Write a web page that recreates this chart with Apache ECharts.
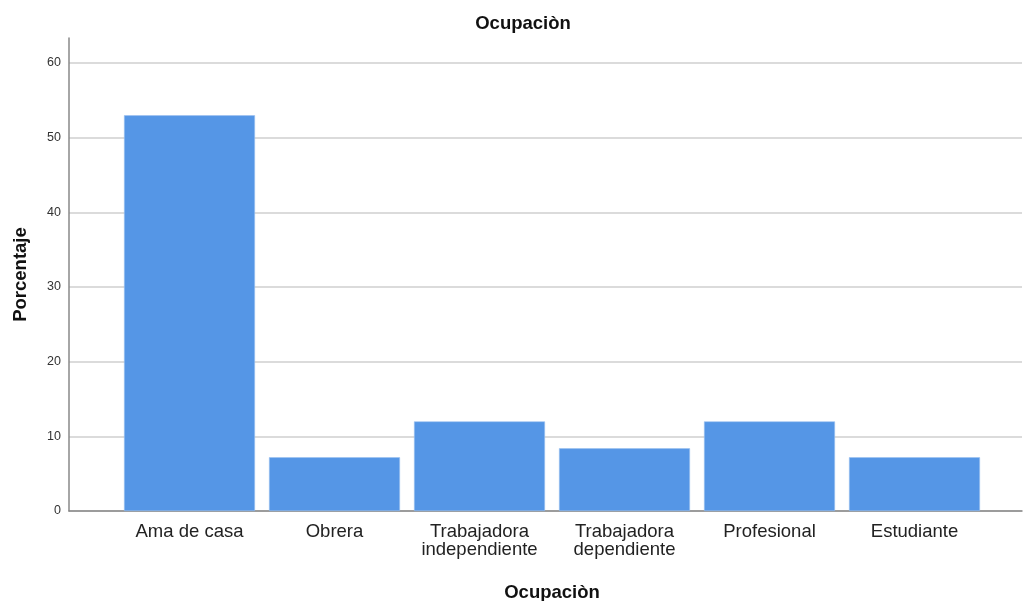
<!DOCTYPE html>
<html>
<head>
<meta charset="utf-8">
<script src="https://cdn.jsdelivr.net/npm/echarts@6/dist/echarts.min.js"></script>
<style>
  html, body { margin: 0; padding: 0; background: #fff; }
  #chart { width: 1023px; height: 601px; }
</style>
</head>
<body>
<div id="chart"></div>
<script>
// Ocupación: porcentaje por categoría
const categories = ['Ama de casa', 'Obrera', 'Trabajadora\nindependiente', 'Trabajadora\ndependiente', 'Profesional', 'Estudiante'];
const porcentaje = [53.0, 7.2, 12.0, 8.4, 12.0, 7.2];
const yTicks = { min: 0, max: 60, interval: 10 };

const FONT = '"Liberation Sans", Arial, sans-serif';
const chart = echarts.init(document.getElementById('chart'), null, { renderer: 'canvas' });

chart.setOption({
  animation: false,
  backgroundColor: '#ffffff',
  title: {
    text: 'Ocupaciòn',
    left: 518, top: 9, textAlign: 'center',
    textStyle: { fontFamily: FONT, fontSize: 18.5, fontWeight: 'bold', color: '#111' }
  },
  grid: [
    // frame: y axis line rising above the top gridline
    { left: 69, top: 38, width: 953, height: 473, outerBoundsMode: 'none', containLabel: false },
    // gridlines and y labels
    { left: 69, top: 63, width: 953, height: 448, outerBoundsMode: 'none', containLabel: false },
    // bars
    { left: 117, top: 63, width: 870, height: 448, outerBoundsMode: 'none', containLabel: false }
  ],
  xAxis: [
    { gridIndex: 0, type: 'category', data: [''], axisLine: { show: true, lineStyle: { color: '#888', width: 1.5 } },
      axisTick: { show: false }, axisLabel: { show: false } },
    { gridIndex: 1, type: 'category', data: [''], show: false },
    { gridIndex: 2, type: 'category', data: categories,
      axisLine: { show: false }, axisTick: { show: false },
      axisLabel: { fontFamily: FONT, fontSize: 18.5, color: '#222', margin: 12, lineHeight: 18, interval: 0 },
      name: 'Ocupaciòn', nameLocation: 'middle', nameGap: 72,
      nameTextStyle: { fontFamily: FONT, fontSize: 18.5, fontWeight: 'bold', color: '#111' } }
  ],
  yAxis: [
    { gridIndex: 0, type: 'value', min: 0, max: 63.35,
      axisLine: { show: true, lineStyle: { color: '#888', width: 1.5 } },
      axisTick: { show: false }, axisLabel: { show: false }, splitLine: { show: false },
      name: 'Porcentaje', nameLocation: 'middle', nameGap: 39,
      nameTextStyle: { fontFamily: FONT, fontSize: 18.5, fontWeight: 'bold', color: '#111' } },
    { gridIndex: 1, type: 'value', min: yTicks.min, max: yTicks.max, interval: yTicks.interval,
      axisLine: { show: false }, axisTick: { show: false },
      axisLabel: { fontFamily: FONT, fontSize: 12.5, color: '#333', margin: 8 },
      splitLine: { show: true, lineStyle: { color: '#cfcfcf', width: 1.5 } } },
    { gridIndex: 2, type: 'value', min: yTicks.min, max: yTicks.max, interval: yTicks.interval, show: false,
      splitLine: { show: false } }
  ],
  series: [{
    type: 'bar',
    xAxisIndex: 2, yAxisIndex: 2,
    data: porcentaje,
    barWidth: 131,
    itemStyle: { color: '#5596e6', borderColor: '#9cc1f0', borderWidth: 0.6 },
    z: 3
  }]
});
</script>
</body>
</html>
